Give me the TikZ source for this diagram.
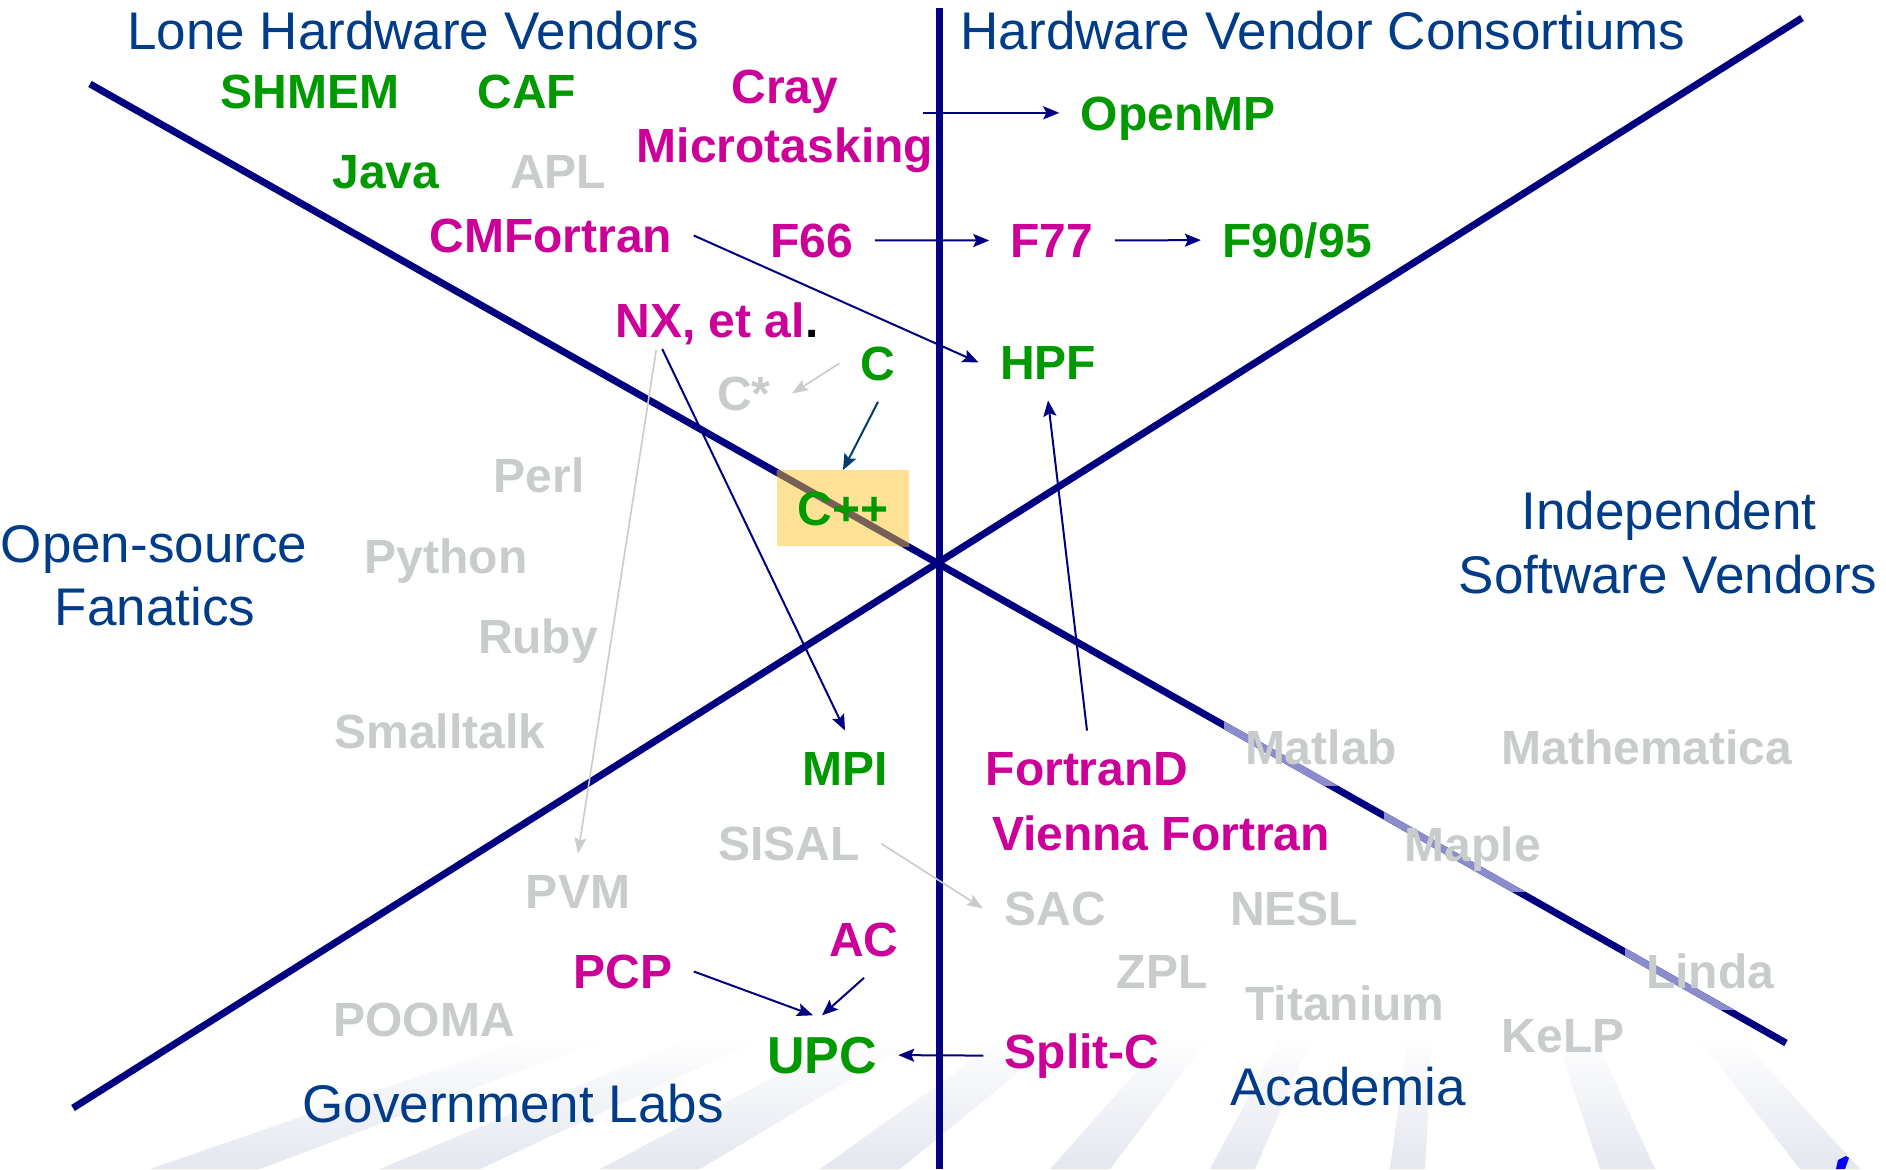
\documentclass[tikz,border=0pt]{standalone}
\usepackage{fontspec}
\setmainfont{Liberation Sans}
\usetikzlibrary{arrows.meta,calc}
\definecolor{navy}{RGB}{0,0,128}
\definecolor{hdblue}{RGB}{0,60,136}
\definecolor{grn}{RGB}{0,153,0}
\definecolor{mag}{RGB}{204,0,153}
\definecolor{gry}{RGB}{200,204,204}
\definecolor{cppfill}{RGB}{253,226,150}
\definecolor{brn}{RGB}{120,96,86}
\definecolor{lav}{RGB}{140,140,205}
\definecolor{arrteal}{RGB}{0,60,110}
\definecolor{raycol}{RGB}{228,231,239}
\begin{document}
\begin{tikzpicture}[x=0.5pt,y=-0.5pt,
  hd/.style={font=\fontsize{26.5}{30}\selectfont, text=hdblue, inner sep=0pt, anchor=base},
  lang/.style={font=\fontsize{24}{28}\selectfont\bfseries, inner sep=10.5pt, anchor=base},
  grnlang/.style={lang, text=grn},
  maglang/.style={lang, text=mag},
  grylang/.style={lang, text=gry},
  hatch/.style={path picture={\draw[lav, line width=3.5pt] (d1a) -- (d1b);}},
  arr/.style={draw=navy, line width=1pt, -{Stealth[length=8pt,width=6.5pt,inset=1.5pt]}},
  tarr/.style={draw=arrteal, line width=1pt, -{Stealth[length=8pt,width=6.5pt,inset=1.5pt]}},
  garr/.style={draw=gry, line width=0.8pt, -{Stealth[length=8pt,width=6pt,inset=1.5pt]}},
  bigline/.style={navy, line width=3.5pt}
]
\useasboundingbox (0,0) rectangle (1886,1169);
\fill[white] (0,0) rectangle (1886,1169);

% faint background rays
\coordinate (vp) at (1450,720);
\foreach \a/\b in {150/260, 380/480, 600/700, 820/900, 1050/1110, 1210/1255, 1390/1425, 1600/1655, 1800/1860} {
  \shade[top color=white, bottom color=raycol]
    (\a,1169) -- ($(\a,1169)!0.3!(vp)$) -- ($(\b,1169)!0.3!(vp)$) -- (\b,1169) -- cycle;
}

% main axes
\coordinate (d1a) at (90,84);
\coordinate (d1b) at (1786,1043);
\coordinate (d2a) at (73,1108);
\coordinate (d2b) at (1802,18);
\coordinate (vta) at (939,8);
\coordinate (vtb) at (939,1169);
\draw[bigline] (d1a) -- (d1b);
\draw[bigline] (d2a) -- (d2b);
\draw[bigline] (vta) -- (vtb);

% headings
\node[hd] (lhv) at (413,49) {Lone Hardware Vendors};
\node[hd] (hvc) at (1323,49) {Hardware Vendor Consortiums};
\node[hd] (os1) at (154,562) {Open-source};
\node[hd] (os2) at (155,625) {Fanatics};
\node[hd] (isv1) at (1669,529) {Independent};
\node[hd] (isv2) at (1668,593) {Software Vendors};
\node[hd] (gl) at (513,1122) {Government Labs};
\node[hd] (acad) at (1348,1105) {Academia};

% languages
\node[grnlang] (shmem) at (310,108) {SHMEM};
\node[grnlang] (caf) at (527,108) {CAF};
\node[maglang] (cray) at (785,103) {Cray};
\node[maglang] (micro) at (785,162) {Microtasking};
\node[grnlang] (java) at (386,188) {Java};
\node[grylang] (apl) at (558,188) {APL};
\node[maglang] (cmf) at (551,252) {CMFortran};
\node[maglang] (f66) at (812,257) {F66};
\node[maglang] (nx) at (717,337) {NX, et al\textcolor{black}{.}};
\node[grnlang] (c) at (878,380) {C};
\node[grylang] (cstar) at (744,410) {C*};
\node[grnlang] (openmp) at (1178,130) {OpenMP};
\node[maglang] (f77) at (1052,257) {F77};
\node[grnlang] (f9095) at (1297,257) {F90/95};
\node[grnlang] (hpf) at (1048,379) {HPF};
\node[grylang] (perl) at (539,492) {Perl};
\node[grylang] (python) at (446,573) {Python};
\node[grylang] (ruby) at (538,653) {Ruby};
\node[grylang] (smalltalk) at (440,748) {Smalltalk};
\node[grnlang, fill=cppfill, path picture={\draw[brn, line width=3.5pt] (d1a) -- (d1b);}] (cpp) at (843,525) {C++};
\node[grnlang] (mpi) at (845,785) {MPI};
\node[grylang, hatch] (matlab) at (1321,764) {Matlab};
\node[grylang] (mathematica) at (1647,764) {Mathematica};
\node[maglang] (fortrand) at (1087,785) {FortranD};
\node[grylang] (sisal) at (789,860) {SISAL};
\node[grylang] (pvm) at (578,908) {PVM};
\node[maglang] (ac) at (864,956) {AC};
\node[maglang] (pcp) at (623,988) {PCP};
\node[grylang] (pooma) at (424,1036) {POOMA};
\node[grnlang, font=\fontsize{26}{30}\selectfont\bfseries] (upc) at (822,1073) {UPC};
\node[maglang] (vienna) at (1161,850) {Vienna Fortran};
\node[grylang, hatch] (maple) at (1473,861) {Maple};
\node[grylang] (sac) at (1055,925) {SAC};
\node[grylang] (nesl) at (1294,925) {NESL};
\node[grylang] (zpl) at (1162,988) {ZPL};
\node[grylang, hatch] (linda) at (1710,988) {Linda};
\node[grylang] (titanium) at (1345,1020) {Titanium};
\node[grylang] (kelp) at (1563,1052) {KeLP};
\node[maglang] (splitc) at (1082,1068) {Split-C};

% connectors
\coordinate (cms) at ($(micro.north east)+(-31,7)$);
\draw[arr] (cms) -- (cms -| openmp.west);
\draw[arr] (f66.east) -- (f77.west);
\draw[arr] (f77.east) -- (f9095.west);
\draw[arr] (cmf.east) -- (hpf.west);
\draw[arr] (fortrand.north) -- (hpf.south);
\draw[arr] ($(nx.base west)+(68,12)$) -- (mpi.north);
\draw[garr] ($(nx.base west)+(62,13)$) -- (pvm.north);
\draw[garr] (c.west) -- (cstar.east);
\draw[tarr] (c.south) -- (cpp.north);
\draw[garr] (sisal.east) -- (sac.west);
\draw[arr] (pcp.east) -- ($(upc.north)+(-9,0)$);
\draw[arr] (ac.south) -- (upc.north);
\draw[arr] (splitc.west) -- (upc.east);

% small blue mark
\fill[blue] (1836,1169) -- (1838,1160) -- (1846,1156) -- (1849,1158) -- (1845,1169) -- cycle;
\end{tikzpicture}
\end{document}
